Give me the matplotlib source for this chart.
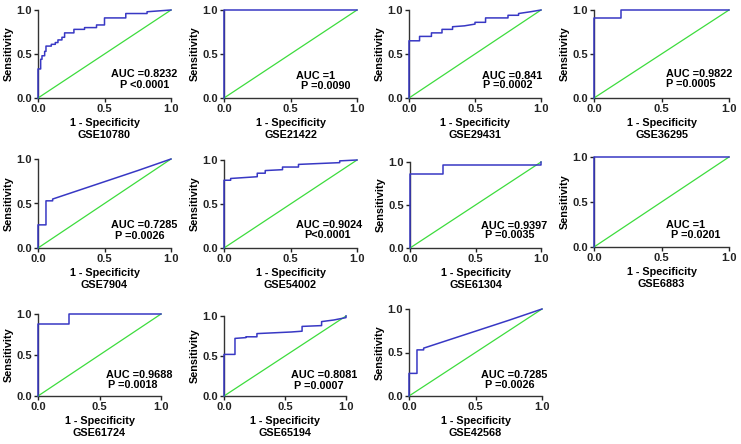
import matplotlib
matplotlib.use("Agg")
import matplotlib.pyplot as plt

plt.rcParams['font.family'] = ['Liberation Sans', 'DejaVu Sans']
plt.rcParams['font.weight'] = 'bold'

# dataset names, AUC / P text
datasets = ["GSE10780", "GSE21422", "GSE29431", "GSE36295",
            "GSE7904", "GSE54002", "GSE61304", "GSE6883",
            "GSE61724", "GSE65194", "GSE42568"]
auc_labels = ["AUC =0.8232", "AUC =1", "AUC =0.841", "AUC =0.9822",
              "AUC =0.7285", "AUC =0.9024", "AUC =0.9397", "AUC =1",
              "AUC =0.9688", "AUC =0.8081", "AUC =0.7285"]
p_labels = ["P <0.0001", "P =0.0090", "P =0.0002", "P =0.0005",
            "P =0.0026", "P<0.0001", "P =0.0035", "P =0.0201",
            "P =0.0018", "P =0.0007", "P =0.0026"]

# ROC vertices (1 - specificity, sensitivity)
fpr_10780 = [0, 0, 0.02, 0.02, 0.03, 0.03, 0.05, 0.05, 0.06, 0.06, 0.10, 0.10,
             0.13, 0.13, 0.15, 0.15, 0.18, 0.18, 0.20, 0.20, 0.27, 0.27, 0.35,
             0.35, 0.44, 0.44, 0.50, 0.50, 0.66, 0.66, 0.82, 0.82, 1.0]
tpr_10780 = [0, 0.33, 0.33, 0.44, 0.44, 0.48, 0.48, 0.53, 0.53, 0.59, 0.59, 0.61,
             0.61, 0.63, 0.63, 0.66, 0.66, 0.69, 0.69, 0.74, 0.74, 0.78, 0.78,
             0.80, 0.80, 0.83, 0.83, 0.91, 0.91, 0.96, 0.96, 0.98, 1.0]
fpr_21422 = [0, 0, 1]
tpr_21422 = [0, 1, 1]
fpr_29431 = [0, 0, 0.08, 0.08, 0.17, 0.17, 0.25, 0.25, 0.33, 0.33, 0.42, 0.50,
             0.50, 0.58, 0.58, 0.75, 0.75, 0.83, 0.83, 0.92, 1.0]
tpr_29431 = [0, 0.65, 0.65, 0.70, 0.70, 0.74, 0.74, 0.78, 0.78, 0.81, 0.82, 0.84,
             0.86, 0.86, 0.91, 0.91, 0.94, 0.94, 0.96, 0.98, 1.0]
fpr_36295 = [0, 0, 0.20, 0.20, 1.0]
tpr_36295 = [0, 0.91, 0.91, 1.0, 1.0]
fpr_7904 = [0, 0, 0.06, 0.06, 0.11, 0.11, 0.75, 1.0]
tpr_7904 = [0, 0.26, 0.26, 0.53, 0.53, 0.55, 0.87, 1.0]
fpr_54002 = [0, 0, 0.05, 0.05, 0.25, 0.25, 0.31, 0.31, 0.44, 0.44, 0.56, 0.56,
             0.87, 0.87, 1.0]
tpr_54002 = [0, 0.77, 0.77, 0.79, 0.81, 0.85, 0.85, 0.88, 0.89, 0.92, 0.92, 0.95,
             0.97, 0.99, 1.0]
fpr_61304 = [0, 0, 0.25, 0.25, 1.0, 1.0]
tpr_61304 = [0, 0.86, 0.86, 0.967, 0.967, 1.0]
fpr_6883 = [0, 0, 1]
tpr_6883 = [0, 1, 1]
fpr_61724 = [0, 0, 0.25, 0.25, 1.0]
tpr_61724 = [0, 0.875, 0.875, 1.0, 1.0]
fpr_65194 = [0, 0, 0.09, 0.09, 0.18, 0.18, 0.27, 0.27, 0.55, 0.64, 0.64, 0.80,
             0.80, 0.90, 1.0, 1.0]
tpr_65194 = [0, 0.52, 0.52, 0.72, 0.73, 0.74, 0.74, 0.78, 0.80, 0.81, 0.87, 0.88,
             0.93, 0.95, 0.98, 1.0]
fpr_42568 = [0, 0, 0.06, 0.06, 0.11, 0.11, 0.75, 1.0]
tpr_42568 = [0, 0.26, 0.26, 0.53, 0.53, 0.55, 0.87, 1.0]

fprs = [fpr_10780, fpr_21422, fpr_29431, fpr_36295, fpr_7904, fpr_54002,
        fpr_61304, fpr_6883, fpr_61724, fpr_65194, fpr_42568]
tprs = [tpr_10780, tpr_21422, tpr_29431, tpr_36295, tpr_7904, tpr_54002,
        tpr_61304, tpr_6883, tpr_61724, tpr_65194, tpr_42568]

# layout: axes boxes in pixels (left, top, right, bottom)
W, H = 741, 444
boxes = [(38, 10, 171, 98), (224, 10, 357, 98), (409, 10, 541, 98), (594, 10, 729, 98),
         (38, 159, 171, 248), (224, 160, 357, 248), (410, 162, 541, 248), (594, 157, 729, 247),
         (38, 314, 161, 396), (224, 316, 346, 396), (409, 309, 542, 396)]
# text anchor positions in axes fraction (auc_x, auc_y, p_x, p_y)
text_pos = [(0.55, 0.275, 0.62, 0.15), (0.54, 0.25, 0.58, 0.14), (0.55, 0.25, 0.56, 0.15),
            (0.53, 0.275, 0.53, 0.16), (0.55, 0.26, 0.58, 0.14), (0.54, 0.26, 0.60, 0.15),
            (0.54, 0.26, 0.57, 0.15), (0.53, 0.24, 0.57, 0.13), (0.55, 0.26, 0.57, 0.13),
            (0.55, 0.26, 0.57, 0.13), (0.54, 0.245, 0.57, 0.13)]

BLUE = '#3838c4'
GREEN = '#3ddc3d'
TICK_FS = 8
LABEL_FS = 7.8
NOTE_FS = 7.8

fig = plt.figure(figsize=(W / 100, H / 100), dpi=100)
for i, name in enumerate(datasets):
    l, t, r, b = boxes[i]
    ax = fig.add_axes([l / W, 1 - b / H, (r - l) / W, (b - t) / H])
    ax.plot([0, 1], [0, 1], color=GREEN, lw=0.9, clip_on=False, zorder=3)
    ax.plot(fprs[i], tprs[i], color=BLUE, lw=1.1, clip_on=False, zorder=4)
    ax.set_xlim(0, 1)
    ax.set_ylim(0, 1)
    ax.set_xticks([0, 0.5, 1.0])
    ax.set_yticks([0, 0.5, 1.0])
    ax.set_xticklabels(["0.0", "0.5", "1.0"])
    ax.set_yticklabels(["0.0", "0.5", "1.0"])
    for s in ['top', 'right']:
        ax.spines[s].set_visible(False)
    for s in ['left', 'bottom']:
        ax.spines[s].set_linewidth(1.0)
        ax.spines[s].set_color('#333333')
    ax.tick_params(direction='out', length=3, width=1.0, pad=1.5,
                   labelsize=TICK_FS, colors='#222222')
    for lab in ax.get_xticklabels() + ax.get_yticklabels():
        lab.set_fontweight('bold')
    ax.set_xlabel("1 - Specificity\n" + name, fontsize=LABEL_FS, fontweight='bold',
                  labelpad=2.5, linespacing=1.3)
    ax.set_ylabel("Sensitivity", fontsize=LABEL_FS, fontweight='bold', labelpad=2)
    ax_, ay, px, py = text_pos[i]
    ax.text(ax_, ay, auc_labels[i], transform=ax.transAxes, fontsize=NOTE_FS,
            fontweight='bold', va='center', ha='left')
    ax.text(px, py, p_labels[i], transform=ax.transAxes, fontsize=NOTE_FS,
            fontweight='bold', va='center', ha='left')

fig.savefig("out.png", dpi=100)
